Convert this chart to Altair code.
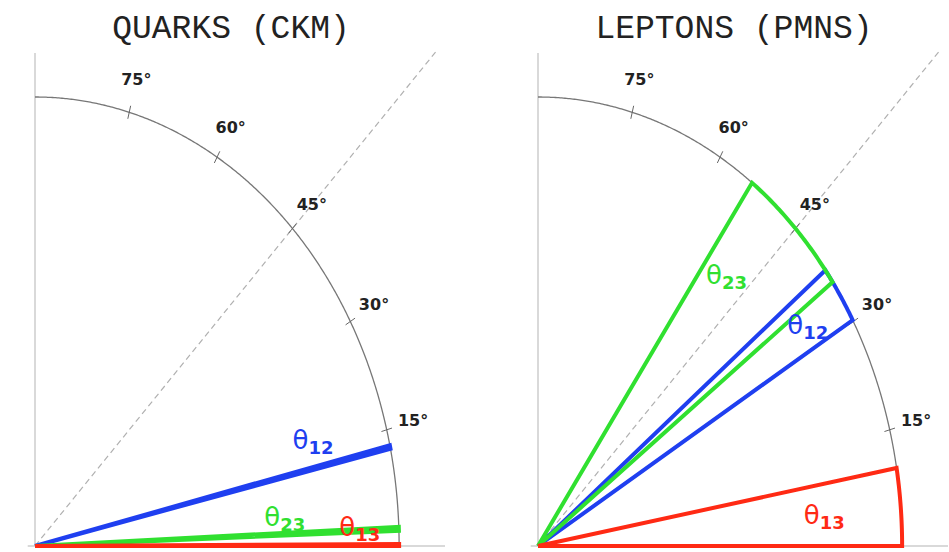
import numpy as np
import pandas as pd
import altair as alt

# Gauge-scale reference marks on the quarter circle
tick_angles = [15, 30, 45, 60, 75]
tick_labels = ["15°", "30°", "45°", "60°", "75°"]

# Mixing-angle ranges in degrees (lower, upper edge of each wedge)
angle_names = ["12", "23", "13"]
angle_colors = ["#1f3ff0", "#30e030", "#ff2a14"]
quark_lo = [12.5, 1.95, 0.0]
quark_hi = [12.98, 2.45, 0.25]
lepton_lo = [30.2, 36.0, 0.0]
lepton_hi = [37.9, 54.0, 10.0]

# Where each theta label sits: (polar angle in degrees, radius)
quark_label_pos = [(17.0, 0.80), (5.2, 0.69), (2.6, 0.894)]
lepton_label_pos = [(33.4, 0.889), (49.2, 0.794), (4.8, 0.79)]

X_MAX = 1.126
Y_MAX = 1.098
PANEL_W = 410
PANEL_H = 493

xs = alt.Scale(domain=[0, X_MAX], nice=False, zero=False)
ys = alt.Scale(domain=[0, Y_MAX], nice=False, zero=False)


def polar(deg, r=1.0):
    a = np.deg2rad(deg)
    return r * np.cos(a), r * np.sin(a)


def xy(**kw):
    return dict(
        x=alt.X("x:Q", scale=xs, axis=None),
        y=alt.Y("y:Q", scale=ys, axis=None),
        **kw,
    )


def panel(title, lo, hi, label_pos):
    # unit circle arc, 0..90 degrees
    arc_deg = np.arange(0, 90.25, 0.25)
    ax, ay = polar(arc_deg)
    arc = pd.DataFrame({"x": ax, "y": ay, "o": np.arange(len(arc_deg))})
    arc_layer = alt.Chart(arc).mark_line(color="#777777", strokeWidth=1.3).encode(
        **xy(order="o:Q")
    )

    # small tick marks across the arc
    rows = []
    for a in tick_angles:
        for k, r in enumerate([0.985, 1.015]):
            px, py = polar(a, r)
            rows.append({"x": px, "y": py, "t": a, "o": k})
    tick_layer = alt.Chart(pd.DataFrame(rows)).mark_line(
        color="#666666", strokeWidth=1
    ).encode(**xy(detail="t:N", order="o:Q"))

    lx, ly = polar(np.array(tick_angles, dtype=float), 1.075)
    lab = pd.DataFrame({"x": lx, "y": ly, "text": tick_labels})
    lab_layer = alt.Chart(lab).mark_text(
        font="DejaVu Sans", fontWeight="bold", fontSize=16, color="#222222",
        align="center", baseline="middle",
    ).encode(**xy(text="text:N"))

    # 45 degree diagonal
    diag = pd.DataFrame({"x": [0, 1.1], "y": [0, 1.1]})
    diag_layer = alt.Chart(diag).mark_line(
        color="#b0b0b0", strokeWidth=1.2, strokeDash=[6, 4]
    ).encode(**xy())

    # frame lines: vertical and horizontal axes
    frame = pd.DataFrame(
        {"x": [0, -0.02], "x2": [0, X_MAX], "y": [0, 0], "y2": [Y_MAX, 0]}
    )
    frame_layer = alt.Chart(frame).mark_rule(color="#cccccc", strokeWidth=1.5).encode(
        x=alt.X("x:Q", scale=xs, axis=None),
        x2="x2:Q",
        y=alt.Y("y:Q", scale=ys, axis=None),
        y2="y2:Q",
    )

    # wedge outlines: origin -> arc(lo) -> along arc -> arc(hi) -> origin
    wrows = []
    for name, a0, a1 in zip(angle_names, lo, hi):
        path = [(0.0, 0.0)]
        for a in np.linspace(a0, a1, 40):
            path.append(polar(a))
        path.append((0.0, 0.0))
        for k, (px, py) in enumerate(path):
            wrows.append({"x": px, "y": py, "name": name, "o": k})
    wedges = pd.DataFrame(wrows)
    cscale = alt.Scale(domain=angle_names, range=angle_colors)
    wedge_layer = alt.Chart(wedges).mark_line(
        strokeWidth=4, strokeJoin="miter", strokeCap="butt"
    ).encode(
        **xy(
            detail="name:N",
            order="o:Q",
            color=alt.Color("name:N", scale=cscale, legend=None),
        )
    )

    # theta labels with subscripts
    tx, ty = [], []
    for a, r in label_pos:
        px, py = polar(a, r)
        tx.append(px)
        ty.append(py)
    tl = pd.DataFrame({"x": tx, "y": ty, "name": angle_names, "theta": ["θ"] * 3})
    theta_layer = alt.Chart(tl).mark_text(
        font="DejaVu Sans", fontSize=26, fontWeight="normal",
        align="center", baseline="middle", dx=-13,
    ).encode(**xy(text="theta:N", color=alt.Color("name:N", scale=cscale, legend=None)))
    sub_layer = alt.Chart(tl).mark_text(
        font="DejaVu Sans", fontSize=18, fontWeight="bold",
        align="left", baseline="middle", dx=-5, dy=8,
    ).encode(**xy(text="name:N", color=alt.Color("name:N", scale=cscale, legend=None)))

    return alt.layer(
        frame_layer, diag_layer, arc_layer, tick_layer, lab_layer,
        wedge_layer, theta_layer, sub_layer,
    ).properties(
        width=PANEL_W,
        height=PANEL_H,
        title=alt.TitleParams(
            title, font="Liberation Mono", fontSize=33, fontWeight="normal",
            color="#222222", anchor="middle", dx=-9, offset=5,
        ),
    )


left = panel("QUARKS (CKM)", quark_lo, quark_hi, quark_label_pos)
right = panel("LEPTONS (PMNS)", lepton_lo, lepton_hi, lepton_label_pos)

chart = (
    alt.hconcat(left, right, spacing=93, bounds="flush")
    .properties(padding={"left": 26, "top": 11, "right": 0, "bottom": 0})
    .configure_view(stroke=None)
    .resolve_scale(color="shared")
)

chart.save("out.html", embed_options={"renderer": "svg", "actions": False})
